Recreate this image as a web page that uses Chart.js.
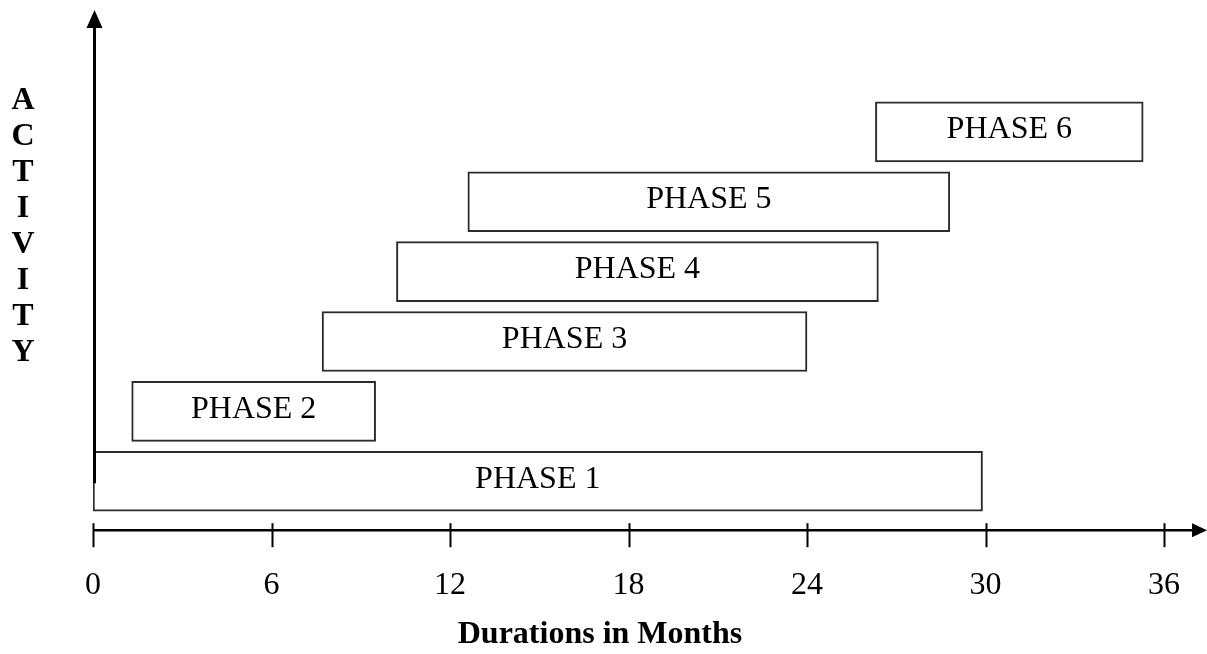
<!DOCTYPE html>
<html>
<head>
<meta charset="utf-8">
<title>Durations in Months</title>
<script src="https://cdn.jsdelivr.net/npm/chart.js@4.4.0/dist/chart.umd.min.js"></script>
<style>
  html, body { margin: 0; padding: 0; background: #fff; }
  #box { width: 1207px; height: 654px; position: relative; }
</style>
</head>
<body>
<div id="box"><canvas id="phaseChart"></canvas></div>
<script>
// chart data
const phases = ["PHASE 1", "PHASE 2", "PHASE 3", "PHASE 4", "PHASE 5", "PHASE 6"];
const rows = [1, 2, 3, 4, 5, 6];
const startMonths = [0, 1.3, 7.7, 10.2, 12.6, 26.3];
const endMonths = [29.9, 9.5, 24.0, 26.4, 28.8, 35.3];
const monthTicks = [0, 6, 12, 18, 24, 30, 36];
const activityLetters = ["A", "C", "T", "I", "V", "I", "T", "Y"];

const serif = "'Liberation Serif', 'Times New Roman', serif";
Chart.defaults.font.family = serif;
Chart.defaults.color = "#000";

// arrows, tick marks and the stacked ACTIVITY label
const axisArrows = {
  id: "axisArrows",
  afterDatasetsDraw(chart) {
    const ctx = chart.ctx;
    const area = chart.chartArea;
    const xs = chart.scales.x;
    const ys = chart.scales.y;
    const x0 = xs.getPixelForValue(0) + 1.5;
    const ay = area.bottom;

    ctx.save();
    ctx.fillStyle = "#000";
    ctx.strokeStyle = "#000";

    // vertical axis
    ctx.lineWidth = 3;
    ctx.beginPath();
    ctx.moveTo(x0, area.top);
    ctx.lineTo(x0, ys.getPixelForValue(rows[0]) + 2);
    ctx.stroke();
    ctx.beginPath();
    ctx.moveTo(x0, area.top - 17);
    ctx.lineTo(x0 - 8, area.top + 1);
    ctx.lineTo(x0 + 8, area.top + 1);
    ctx.closePath();
    ctx.fill();

    // horizontal axis
    ctx.lineWidth = 2.5;
    ctx.beginPath();
    ctx.moveTo(xs.getPixelForValue(0), ay);
    ctx.lineTo(chart.width - 14, ay);
    ctx.stroke();
    ctx.beginPath();
    ctx.moveTo(chart.width, ay);
    ctx.lineTo(chart.width - 15, ay - 7);
    ctx.lineTo(chart.width - 15, ay + 7);
    ctx.closePath();
    ctx.fill();

    ctx.lineWidth = 2;
    xs.ticks.forEach((t) => {
      const px = Math.round(xs.getPixelForValue(t.value)) + 0.5;
      ctx.beginPath();
      ctx.moveTo(px, ay - 7);
      ctx.lineTo(px, ay + 17);
      ctx.stroke();
    });

    ctx.font = "bold 32px " + serif;
    ctx.textAlign = "center";
    ctx.textBaseline = "middle";
    activityLetters.forEach((ch, i) => {
      ctx.fillText(ch, 23, 101 + i * 36);
    });
    ctx.restore();
  },
};

// phase names inside the boxes
const phaseLabels = {
  id: "phaseLabels",
  afterDatasetsDraw(chart) {
    const ctx = chart.ctx;
    const meta = chart.getDatasetMeta(0);
    ctx.save();
    ctx.font = "32px " + serif;
    ctx.fillStyle = "#000";
    ctx.textAlign = "center";
    ctx.textBaseline = "middle";
    meta.data.forEach((bar, i) => {
      const p = bar.getProps(["x", "y", "base"], true);
      ctx.fillText(phases[i], (p.x + p.base) / 2, p.y - 2);
    });
    ctx.restore();
  },
};

// empty side scales that only reserve room left and right of the plot
const blankSide = (w) => ({
  type: "linear",
  display: true,
  ticks: { display: false },
  grid: { display: false },
  border: { display: false },
  afterFit: (scale) => {
    scale.width = w;
  },
});

const ctx = document.getElementById("phaseChart");

const phaseChart = new Chart(ctx, {
  type: "bar",
  data: {
    datasets: [
      {
        label: "Activity",
        data: rows.map((r, i) => ({ y: r, x: [startMonths[i], endMonths[i]] })),
        backgroundColor: "#fff",
        borderColor: "#2b2b2b",
        borderWidth: 2,
        borderSkipped: false,
        barThickness: 60,
      },
    ],
  },
  options: {
    indexAxis: "y",
    responsive: true,
    maintainAspectRatio: false,
    animation: false,
    layout: {
      padding: { left: 0, right: 7, top: 27, bottom: 0 },
    },
    plugins: {
      legend: { display: false },
      tooltip: { enabled: false },
      title: {
        display: true,
        position: "bottom",
        text: "Durations in Months",
        color: "#000",
        font: { size: 32, weight: "bold" },
        padding: { top: -25, bottom: 0 },
      },
    },
    scales: {
      x: {
        type: "linear",
        min: 0,
        max: 36,
        afterBuildTicks: (scale) => {
          scale.ticks = monthTicks.map((v) => ({ value: v }));
        },
        grid: { display: false, drawTicks: false },
        border: { display: false },
        ticks: {
          color: "#000",
          font: { size: 32, lineHeight: 1.7625 },
          padding: 27,
          maxRotation: 0,
          autoSkip: false,
        },
      },
      y: Object.assign(blankSide(93), {
        position: "left",
        min: 0.3,
        max: 7.5,
        offset: false,
      }),
      yRight: Object.assign(blankSide(36), {
        position: "right",
      }),
    },
  },
  plugins: [phaseLabels, axisArrows],
});
</script>
</body>
</html>
